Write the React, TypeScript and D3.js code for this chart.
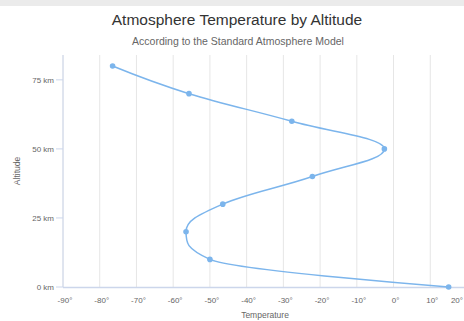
import React from "react";
import * as d3 from "d3";

const altitudes = [0, 10, 20, 30, 40, 50, 60, 70, 80];
const temperatures = [15, -50, -56.5, -46.5, -22.1, -2.5, -27.7, -55.7, -76.5];
const altTicks = [0, 25, 50, 75];
const tempTicks = [-90, -80, -70, -60, -50, -40, -30, -20, -10, 0, 10, 20];

const W = 464;
const H = 321;
const FONT = '"Liberation Sans", Arial, sans-serif';

export default function App() {
  const x = d3.scaleLinear().domain([-90, 20]).range([63, 467]);
  const y = d3.scaleLinear().domain([0, 84]).range([287, 55]);

  // Highcharts-style spline (computed in un-inverted coords: px = altitude pixel, py = temperature pixel)
  const pts = altitudes.map((a, i) => ({ px: y(a), py: x(temperatures[i]), rcx: NaN, rcy: NaN }));
  const smoothing = 1.5;
  const denom = smoothing + 1;
  const p = d3.path();
  pts.forEach((pt, i) => {
    const last = pts[i - 1];
    const next = pts[i + 1];
    let lcx = pt.px, lcy = pt.py;
    if (last && next) {
      lcx = (smoothing * pt.px + last.px) / denom;
      lcy = (smoothing * pt.py + last.py) / denom;
      const rcx = (smoothing * pt.px + next.px) / denom;
      let rcy = (smoothing * pt.py + next.py) / denom;
      let correction = 0;
      if (rcx !== lcx) {
        correction = ((rcy - lcy) * (rcx - pt.px)) / (rcx - lcx) + pt.py - rcy;
      }
      lcy += correction;
      rcy += correction;
      if (lcy > last.py && lcy > pt.py) {
        lcy = Math.max(last.py, pt.py);
        rcy = 2 * pt.py - lcy;
      } else if (lcy < last.py && lcy < pt.py) {
        lcy = Math.min(last.py, pt.py);
        rcy = 2 * pt.py - lcy;
      }
      if (rcy > next.py && rcy > pt.py) {
        rcy = Math.max(next.py, pt.py);
        lcy = 2 * pt.py - rcy;
      } else if (rcy < next.py && rcy < pt.py) {
        rcy = Math.min(next.py, pt.py);
        lcy = 2 * pt.py - rcy;
      }
      pt.rcx = rcx;
      pt.rcy = rcy;
    }
    if (i === 0) {
      p.moveTo(pt.py, pt.px);
    } else {
      const c1x = isNaN(last.rcx) ? last.px : last.rcx;
      const c1y = isNaN(last.rcy) ? last.py : last.rcy;
      p.bezierCurveTo(c1y, c1x, lcy, lcx, pt.py, pt.px);
    }
  });

  const plotTop = y(84);
  const plotBottom = y(0);
  const plotLeft = x(-90);
  const lastTick = tempTicks[tempTicks.length - 1];

  return (
    <svg
      width={W}
      height={H}
      style={{ position: "absolute", left: 0, top: 0, background: "#fff" }}
      fontFamily={FONT}
    >
      <rect x={0} y={0} width={W} height={H} fill="#fff" />
      <rect x={0} y={0} width={W} height={6} fill="#ebebeb" />
      <text x={237} y={25} textAnchor="middle" fontSize={15.5} fill="#333">
        Atmosphere Temperature by Altitude
      </text>
      <text x={238} y={45} textAnchor="middle" fontSize={10.5} fill="#666">
        According to the Standard Atmosphere Model
      </text>

      {tempTicks.map((t) => (
        <line key={"g" + t} x1={x(t)} x2={x(t)} y1={plotTop} y2={plotBottom} stroke="#e6e6e6" strokeWidth={1} />
      ))}

      <line x1={plotLeft} x2={plotLeft} y1={plotTop} y2={plotBottom} stroke="#ccd6eb" strokeWidth={1} />
      {altTicks.map((a) => (
        <g key={"a" + a}>
          <line x1={plotLeft - 7} x2={plotLeft} y1={y(a)} y2={y(a)} stroke="#ccd6eb" strokeWidth={1} />
          <text x={plotLeft - 9} y={y(a) + 3} textAnchor="end" fontSize={8} fill="#666">
            {a} km
          </text>
        </g>
      ))}
      <text
        transform={`translate(20,${(plotTop + plotBottom) / 2}) rotate(-90)`}
        textAnchor="middle"
        fontSize={8.5}
        fill="#666"
      >
        Altitude
      </text>

      <line x1={plotLeft} x2={W} y1={plotBottom + 0.5} y2={plotBottom + 0.5} stroke="#ccd6eb" strokeWidth={1.5} />
      {tempTicks.map((t) => (
        <text
          key={"t" + t}
          x={t === lastTick ? W - 1 : x(t) + 2}
          y={303}
          textAnchor={t === lastTick ? "end" : "middle"}
          fontSize={8}
          fill="#666"
        >
          {t}°
        </text>
      ))}
      <text x={265} y={318} textAnchor="middle" fontSize={8.5} fill="#666">
        Temperature
      </text>

      <path d={p.toString()} fill="none" stroke="#7cb5ec" strokeWidth={1.5} />
      {altitudes.map((a, i) => (
        <circle key={"m" + a} cx={x(temperatures[i])} cy={y(a)} r={2.8} fill="#7cb5ec" />
      ))}
    </svg>
  );
}
